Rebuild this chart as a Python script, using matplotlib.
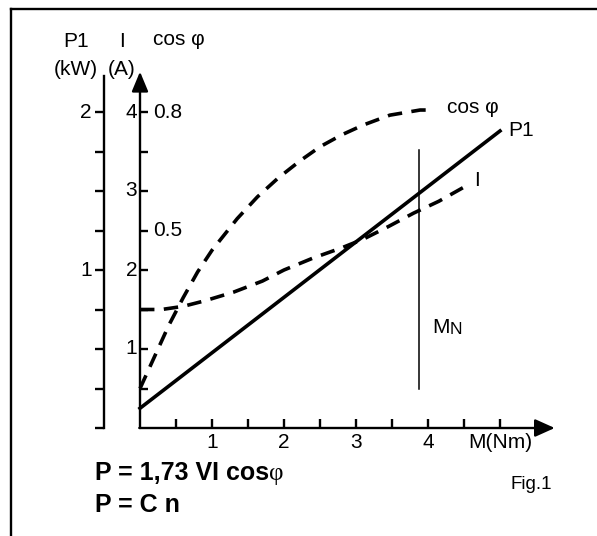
import matplotlib
matplotlib.use('Agg')
import matplotlib.pyplot as plt
from matplotlib.lines import Line2D
import numpy as np

plt.rcParams['font.family'] = ['Liberation Sans', 'DejaVu Sans']

# curve data
# torque M (Nm) -> current I (A)
m_i = [0, 0.3, 0.6, 0.9, 1.3, 1.7, 2.0, 2.4, 2.8, 3.1, 3.45, 3.8, 4.15, 4.56]
cur_i = [1.5, 1.5, 1.54, 1.61, 1.72, 1.86, 2.0, 2.15, 2.28, 2.39, 2.55, 2.72, 2.87, 3.08]

# torque M (Nm) -> power factor cos phi
m_cos = [0, 0.2, 0.4, 0.6, 0.8, 1.0, 1.35, 1.63, 1.92, 2.22, 2.5, 2.8, 3.1, 3.47, 3.89, 4.07]
cos_phi = [0.10, 0.18, 0.26, 0.33, 0.395, 0.45, 0.53, 0.585, 0.633, 0.676, 0.712, 0.742,
           0.767, 0.792, 0.805, 0.805]

# torque M (Nm) -> input power P1 (kW)
m_p1 = [0, 5.0]
p1_kw = [0.125, 1.88]

m_nominal = 3.875

# axis ticks
x_ticks = [0.5, 1, 1.5, 2, 2.5, 3, 3.5, 4, 4.5, 5]
x_labels = {1: '1', 2: '2', 3: '3', 4: '4'}
i_ticks = [0.5, 1, 1.5, 2, 2.5, 3, 3.5, 4]
i_labels = [1, 2, 3, 4]
p1_ticks = [0, 0.25, 0.5, 0.75, 1, 1.25, 1.5, 1.75, 2]
p1_labels = [1, 2]
cos_labels = [0.5, 0.8]

# all three scales share the I axis: 1 kW = 2 A, cos 1 = 5 A
kw_to_i = 2.0
cos_to_i = 5.0

W, H = 597, 536
fig = plt.figure(figsize=(W / 100, H / 100), dpi=100)
ax = fig.add_axes([0, 0, 1, 1])
# origin at (140, 428) px, 72 px per Nm, 79 px per A
ax.set_xlim(-140 / 72, (W - 140) / 72)
ax.set_ylim((428 - H) / 79, 428 / 79)
ax.axis('off')

# open frame (top and left)
fig.add_artist(Line2D([11 / W, 1], [1 - 9 / H, 1 - 9 / H], color='black', lw=1.7))
fig.add_artist(Line2D([11 / W, 11 / W], [0, 1 - 9 / H], color='black', lw=1.7))

k = 'black'
# main axes with arrows
ax.annotate('', xy=(0, 4.51), xytext=(0, 0),
            arrowprops=dict(arrowstyle='-|>,head_length=0.6,head_width=0.25',
                            lw=1.7, color=k, mutation_scale=20, shrinkA=0, shrinkB=0))
ax.annotate('', xy=(5.76, 0), xytext=(-0.01, 0),
            arrowprops=dict(arrowstyle='-|>,head_length=0.6,head_width=0.27',
                            lw=1.7, color=k, mutation_scale=20, shrinkA=0, shrinkB=0))
# P1 axis
px = -0.5
ax.plot([px, px], [0, 4.46], color=k, lw=1.7)

# ticks
ax.vlines(x_ticks, 0, 0.11, color=k, lw=1.7)
ax.hlines(i_ticks, 0, 0.11, color=k, lw=1.7)
ax.hlines(np.array(p1_ticks) * kw_to_i, px - 0.125, px, color=k, lw=1.7)

fs = 15
for v, s in x_labels.items():
    ax.text(v, -0.255, s, ha='center', va='baseline', fontsize=fs)
ax.text(5.0, -0.255, 'M(Nm)', ha='center', va='baseline', fontsize=fs)
for v in i_labels:
    ax.text(-0.04, v, str(v), ha='right', va='center', fontsize=fs)
for v in p1_labels:
    ax.text(-0.67, v * kw_to_i, str(v), ha='right', va='center', fontsize=fs)
for v in cos_labels:
    ax.text(0.18, v * cos_to_i, str(v), ha='left', va='center', fontsize=fs)

# axis titles
ax.text(-0.89, 4.82, 'P1', ha='center', va='baseline', fontsize=fs)
ax.text(-0.89, 4.47, '(kW)', ha='center', va='baseline', fontsize=fs)
ax.text(-0.25, 4.82, 'I', ha='center', va='baseline', fontsize=fs)
ax.text(-0.25, 4.47, '(A)', ha='center', va='baseline', fontsize=fs)
ax.text(0.18, 4.85, 'cos φ', ha='left', va='baseline', fontsize=fs)

# curves
dash = (0, (4, 2.6))
ax.plot(m_p1, np.array(p1_kw) * kw_to_i, color=k, lw=2.6)
ax.plot(m_i, cur_i, color=k, lw=2.6, linestyle=dash)
ax.plot(m_cos, np.array(cos_phi) * cos_to_i, color=k, lw=2.6, linestyle=dash)
ax.plot([m_nominal, m_nominal], [0.5, 3.52], color=k, lw=1.1)

# curve labels
ax.text(5.11, 3.76, 'P1', ha='left', va='center', fontsize=fs)
ax.text(4.26, 4.06, 'cos φ', ha='left', va='center', fontsize=fs)
ax.text(4.68, 3.13, 'I', ha='center', va='center', fontsize=fs)
t = ax.text(4.06, 1.27, 'M', ha='left', va='center', fontsize=fs)
ax.annotate('N', xy=(1, 0), xycoords=t, ha='left', va='bottom', fontsize=12.5)

# formulas
f1 = ax.text(-0.625, -0.66, 'P = 1,73 VI cos', ha='left', va='baseline',
             fontsize=18, fontweight='bold')
ax.annotate('φ', xy=(1, 0), xycoords=f1, ha='left', va='bottom', fontsize=18,
            family='Liberation Serif')
ax.text(-0.625, -1.06, 'P = C n', ha='left', va='baseline', fontsize=18, fontweight='bold')
ax.text(5.15, -0.77, 'Fig.1', ha='left', va='baseline', fontsize=13.5)

plt.savefig('out.png', dpi=100)
plt.close()
